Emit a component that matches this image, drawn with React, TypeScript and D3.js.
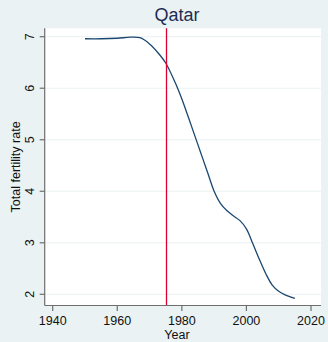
import React from "react";
import * as d3 from "d3";

const years = [1950, 1955, 1960, 1964, 1967, 1970, 1973, 1975, 1978, 1980, 1982, 1984, 1986, 1988, 1990, 1992, 1994, 1996, 1998, 2000, 2002, 2004, 2006, 2008, 2010, 2012, 2015];
const tfr = [6.96, 6.96, 6.97, 6.99, 6.98, 6.86, 6.66, 6.49, 6.10, 5.79, 5.44, 5.08, 4.72, 4.36, 4.00, 3.76, 3.62, 3.52, 3.43, 3.27, 2.98, 2.68, 2.40, 2.18, 2.06, 1.99, 1.92];
const xTicks = [1940, 1960, 1980, 2000, 2020];
const yTicks = [2, 3, 4, 5, 6, 7];
const markerYear = [1975];
const title = "Qatar";
const xTitle = "Year";
const yTitle = "Total fertility rate";

const W = 328, H = 342;
const left = 44.7, right = 321, top = 28.3, bottom = 305.5;

export default function App() {
  const x = d3.scaleLinear().domain([1940, 2020]).range([52.7, 311]);
  const y = d3.scaleLinear().domain([2, 7]).range([294.3, 36.7]);
  const pts = years.map((yr, i) => [yr, tfr[i]] as [number, number]);
  const line = d3.line<[number, number]>().x(d => x(d[0])).y(d => y(d[1])).curve(d3.curveCatmullRom.alpha(0.5));
  const font = "Arial, 'Liberation Sans', sans-serif";
  return (
    <svg width={W} height={H} style={{ position: "absolute", left: 0, top: 0 }} fontFamily={font}>
      <rect x={0} y={0} width={W} height={H} fill="#eaf2f3" />
      <rect x={left} y={top} width={right - left} height={bottom - top} fill="#ffffff" />
      {yTicks.map(t => (
        <line key={"g" + t} x1={left} x2={right} y1={y(t)} y2={y(t)} stroke="#eaf2f3" strokeWidth={1} />
      ))}
      <path d={line(pts) || ""} fill="none" stroke="#1a476f" strokeWidth={1.3} />
      {markerYear.map(m => (
        <line key={"m" + m} x1={Math.round(x(m)) + 0.5} x2={Math.round(x(m)) + 0.5} y1={top} y2={bottom} stroke="#dc0032" strokeWidth={1.3} />
      ))}
      <line x1={left} x2={left} y1={top} y2={bottom} stroke="#6e6e6e" strokeWidth={1.2} />
      <line x1={left} x2={right} y1={bottom} y2={bottom} stroke="#6e6e6e" strokeWidth={1.2} />
      {yTicks.map(t => (
        <g key={"y" + t}>
          <line x1={left - 5} x2={left} y1={y(t)} y2={y(t)} stroke="#6e6e6e" strokeWidth={1.2} />
          <text transform={`translate(${34},${y(t)}) rotate(-90)`} textAnchor="middle" fontSize={12.5} fill="#111">{t}</text>
        </g>
      ))}
      {xTicks.map(t => (
        <g key={"x" + t}>
          <line x1={x(t)} x2={x(t)} y1={bottom} y2={bottom + 5.5} stroke="#6e6e6e" strokeWidth={1.2} />
          <text x={x(t)} y={325} textAnchor="middle" fontSize={12.5} fill="#111">{t}</text>
        </g>
      ))}
      <text x={177} y={21} textAnchor="middle" fontSize={18} fill="#1e2d53">{title}</text>
      <text x={177} y={338.5} textAnchor="middle" fontSize={12.5} fill="#111">{xTitle}</text>
      <text transform={`translate(19.5,${(top + bottom) / 2}) rotate(-90)`} textAnchor="middle" fontSize={12.5} fill="#111">{yTitle}</text>
    </svg>
  );
}
